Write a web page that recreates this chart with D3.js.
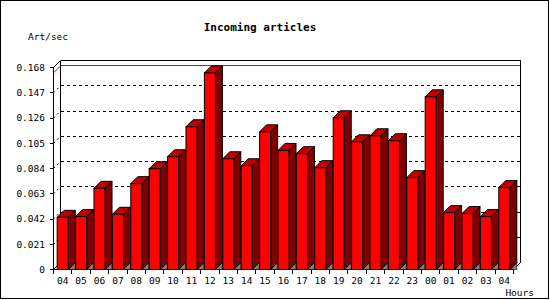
<!DOCTYPE html>
<html>
<head>
<meta charset="utf-8">
<script src="https://cdn.jsdelivr.net/npm/d3@7"></script>
<style>
  body { margin: 0; background: #fff; }
  text { font-family: "DejaVu Sans Mono", monospace; }
</style>
</head>
<body>
<svg id="chart"></svg>
<script>
// data
var hours = ["04", "05", "06", "07", "08", "09", "10", "11", "12", "13", "14", "15", "16",
  "17", "18", "19", "20", "21", "22", "23", "00", "01", "02", "03", "04"];
var artPerSec = [0.0434, 0.0440, 0.0675, 0.0459, 0.0714, 0.0838, 0.0938, 0.1187, 0.1635,
  0.0921, 0.0863, 0.1145, 0.0990, 0.0963, 0.0847, 0.1262, 0.1062, 0.1112, 0.1071,
  0.0764, 0.1436, 0.0473, 0.0465, 0.0440, 0.0681];
var yTicks = [0, 0.021, 0.042, 0.063, 0.084, 0.105, 0.126, 0.147, 0.168];
var yTickLabels = ["0", "0.021", "0.042", "0.063", "0.084", "0.105", "0.126", "0.147", "0.168"];

var W = 550, H = 300;
var depth = 7;

var svg = d3.select("#chart").attr("width", W).attr("height", H);

// frame round the image
svg.append("rect")
  .attr("x", 0.5).attr("y", 0.5)
  .attr("width", W - 2).attr("height", H - 2)
  .attr("fill", "#fff").attr("stroke", "#000")
  .attr("shape-rendering", "crispEdges");

var x = d3.scaleBand()
  .domain(d3.range(artPerSec.length))
  .range([53.5, 513.5])
  .paddingInner(0.4)
  .paddingOuter(0.2);

var y = d3.scaleLinear().domain([0, 0.168]).range([269.5, 67.5]);

var x0 = x.range()[0], x1 = x.range()[1];
var y0 = y(0), yTop = y(0.168);

// back wall
var g = svg.append("g");
g.append("rect")
  .attr("x", x0 + depth).attr("y", yTop - depth)
  .attr("width", x1 - x0).attr("height", y0 - yTop)
  .attr("fill", "#fff").attr("stroke", "none");

// dotted grid on back wall and side wall
yTicks.slice(1, -1).forEach(function (t) {
  g.append("line")
    .attr("x1", x0 + depth).attr("x2", x1 + depth)
    .attr("y1", y(t) - depth).attr("y2", y(t) - depth)
    .attr("stroke", "#000").attr("stroke-dasharray", "3,3")
    .attr("shape-rendering", "crispEdges");
  g.append("line")
    .attr("x1", x0).attr("y1", y(t))
    .attr("x2", x0 + depth).attr("y2", y(t) - depth)
    .attr("stroke", "#000").attr("stroke-dasharray", "2,3");
});

// max value line
var maxV = d3.max(artPerSec);
g.append("line")
  .attr("x1", x0 + depth).attr("x2", x1 + depth)
  .attr("y1", y(maxV) - depth).attr("y2", y(maxV) - depth)
  .attr("stroke", "#f00").attr("shape-rendering", "crispEdges");
g.append("line")
  .attr("x1", x0).attr("y1", y(maxV))
  .attr("x2", x0 + depth).attr("y2", y(maxV) - depth)
  .attr("stroke", "#f00");

// wall outlines
var frame = [
  [[x0 + depth, yTop - depth], [x1 + depth, yTop - depth]],
  [[x0 + depth, yTop - depth], [x0 + depth, y0 - depth]],
  [[x1 + depth, yTop - depth], [x1 + depth, y0 - depth]],
  [[x0, yTop], [x0 + depth, yTop - depth]],
  [[x0, y0], [x0 + depth, y0 - depth]],
  [[x1, y0], [x1 + depth, y0 - depth]],
  [[x0, yTop], [x0, y0]],
  [[x0, y0], [x1, y0]]
];
frame.forEach(function (s) {
  g.append("line")
    .attr("x1", s[0][0]).attr("y1", s[0][1])
    .attr("x2", s[1][0]).attr("y2", s[1][1])
    .attr("stroke", "#000")
    .attr("shape-rendering", (s[0][0] == s[1][0] || s[0][1] == s[1][1]) ? "crispEdges" : "auto");
});

// bars
var bw = x.bandwidth();
var bars = svg.append("g").selectAll("g.bar")
  .data(artPerSec)
  .enter()
  .append("g")
  .attr("class", "bar");

// floor shadow
bars.append("polygon")
  .attr("points", function (d, i) {
    var a = x(i) + bw;
    return [[a, y0], [a + depth, y0 - depth], [a + depth, y0]].join(" ");
  })
  .attr("fill", "#808080").attr("stroke", "#000").attr("stroke-width", 0.6);

// side
bars.append("polygon")
  .attr("points", function (d, i) {
    var a = x(i) + bw, t = y(d);
    return [[a, t], [a + depth, t - depth], [a + depth, y0 - depth], [a, y0]].join(" ");
  })
  .attr("fill", "#800000").attr("stroke", "#000");

// top
bars.append("polygon")
  .attr("points", function (d, i) {
    var a = x(i), t = y(d);
    return [[a, t], [a + depth, t - depth], [a + bw + depth, t - depth], [a + bw, t]].join(" ");
  })
  .attr("fill", "#c00000").attr("stroke", "#000");

// front
bars.append("rect")
  .attr("x", function (d, i) { return x(i); })
  .attr("y", function (d) { return y(d); })
  .attr("width", bw)
  .attr("height", function (d) { return y0 - y(d); })
  .attr("fill", "#ff0000").attr("stroke", "#000");

// y axis ticks and labels
yTicks.forEach(function (t, i) {
  svg.append("line")
    .attr("x1", x0 - 4).attr("x2", x0)
    .attr("y1", y(t)).attr("y2", y(t))
    .attr("stroke", "#000").attr("shape-rendering", "crispEdges");
  svg.append("text")
    .attr("x", 45).attr("y", y(t))
    .attr("dy", "0.35em")
    .attr("text-anchor", "end")
    .attr("font-size", "9.5px")
    .text(yTickLabels[i]);
});

// x axis ticks and labels
d3.range(hours.length + 1).forEach(function (i) {
  var xb = x0 + i * x.step();
  svg.append("line")
    .attr("x1", xb).attr("x2", xb)
    .attr("y1", y0).attr("y2", y0 + 4)
    .attr("stroke", "#000").attr("shape-rendering", "crispEdges");
});
hours.forEach(function (h, i) {
  svg.append("text")
    .attr("x", x(i) + bw / 2).attr("y", 284)
    .attr("text-anchor", "middle")
    .attr("font-size", "9.5px")
    .text(h);
});

// titles
svg.append("text")
  .attr("x", 260).attr("y", 31)
  .attr("text-anchor", "middle")
  .attr("font-size", "11px").attr("font-weight", "bold")
  .text("Incoming articles");
svg.append("text")
  .attr("x", 28).attr("y", 40)
  .attr("font-size", "9.5px")
  .text("Art/sec");
svg.append("text")
  .attr("x", 534).attr("y", 296)
  .attr("text-anchor", "end")
  .attr("font-size", "9.5px")
  .text("Hours");
</script>
</body>
</html>
